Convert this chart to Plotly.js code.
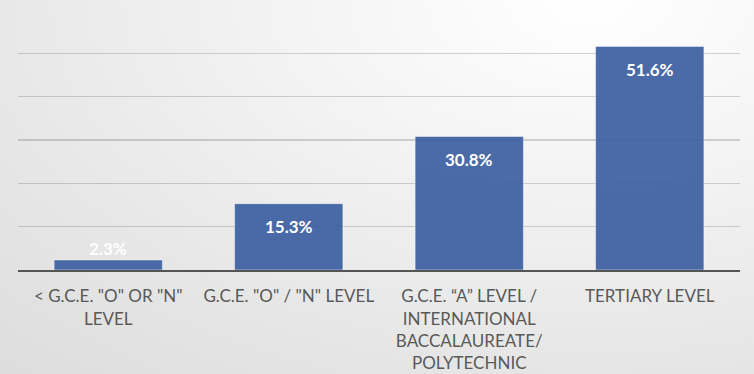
<!DOCTYPE html>
<html>
<head>
<meta charset="utf-8">
<script src="https://cdn.plot.ly/plotly-3.0.1.min.js"></script>
<style>
  html, body { margin: 0; padding: 0; }
  body {
    width: 754px; height: 374px; overflow: hidden;
    background: radial-gradient(ellipse 900px 520px at 78% 0%, #ffffff 0%, #f3f3f3 35%, #e6e6e6 70%, #dcdcdc 100%);
  }
  #chart { width: 754px; height: 374px; }
</style>
</head>
<body>
<div id="chart"></div>
<script>
// Highest education level attained (share of respondents, %)
const categories = [
  '< G.C.E. "O" OR "N"<br>LEVEL',
  'G.C.E. "O" / "N" LEVEL',
  'G.C.E. \u201CA\u201D LEVEL /<br>INTERNATIONAL<br>BACCALAUREATE/<br>POLYTECHNIC',
  'TERTIARY LEVEL'
];
const shares = [2.3, 15.3, 30.8, 51.6];
const valueLabels = shares.map(v => v.toFixed(1) + '%');

const yMax = 60;
const plotTop = 9.5, plotBottom = 104;
const plotHeight = 374 - plotTop - plotBottom;

// Labels sit inside the top of each bar; short bars get the label just above.
const annotations = shares.map((v, i) => {
  const barPx = v / yMax * plotHeight;
  const inside = barPx > 40;
  return {
    x: categories[i], y: v, xref: 'x', yref: 'y',
    text: '<b>' + valueLabels[i] + '</b>',
    showarrow: false,
    yanchor: inside ? 'middle' : 'bottom',
    yshift: inside ? -23 : -1,
    font: { family: 'Lato, "Open Sans", sans-serif', size: 17, color: '#ffffff' }
  };
});

const trace = {
  type: 'bar',
  x: categories,
  y: shares,
  marker: {
    color: 'rgba(60,96,160,0.93)',
    line: { color: 'rgba(255,255,255,0.45)', width: 1 }
  },
  hoverinfo: 'skip'
};

const layout = {
  width: 754, height: 374,
  margin: { l: 18, r: 14, t: plotTop, b: plotBottom },
  paper_bgcolor: 'rgba(0,0,0,0)',
  plot_bgcolor: 'rgba(0,0,0,0)',
  showlegend: false,
  bargap: 0.4,
  font: { family: 'Lato, "Open Sans", sans-serif', color: '#595959' },
  xaxis: {
    type: 'category',
    showline: true, linecolor: '#555555', linewidth: 2,
    showgrid: false, ticks: '',
    tickfont: { size: 17, color: '#595959' },
    ticklabelstandoff: 10,
    tickangle: 0
  },
  yaxis: {
    range: [0, yMax], dtick: 10,
    showgrid: true, gridcolor: 'rgba(0,0,0,0.16)', gridwidth: 1.5,
    showticklabels: false, zeroline: false, showline: false, ticks: ''
  },
  annotations: annotations
};

Plotly.newPlot('chart', [trace], layout, { displayModeBar: false, staticPlot: true });
</script>
</body>
</html>
